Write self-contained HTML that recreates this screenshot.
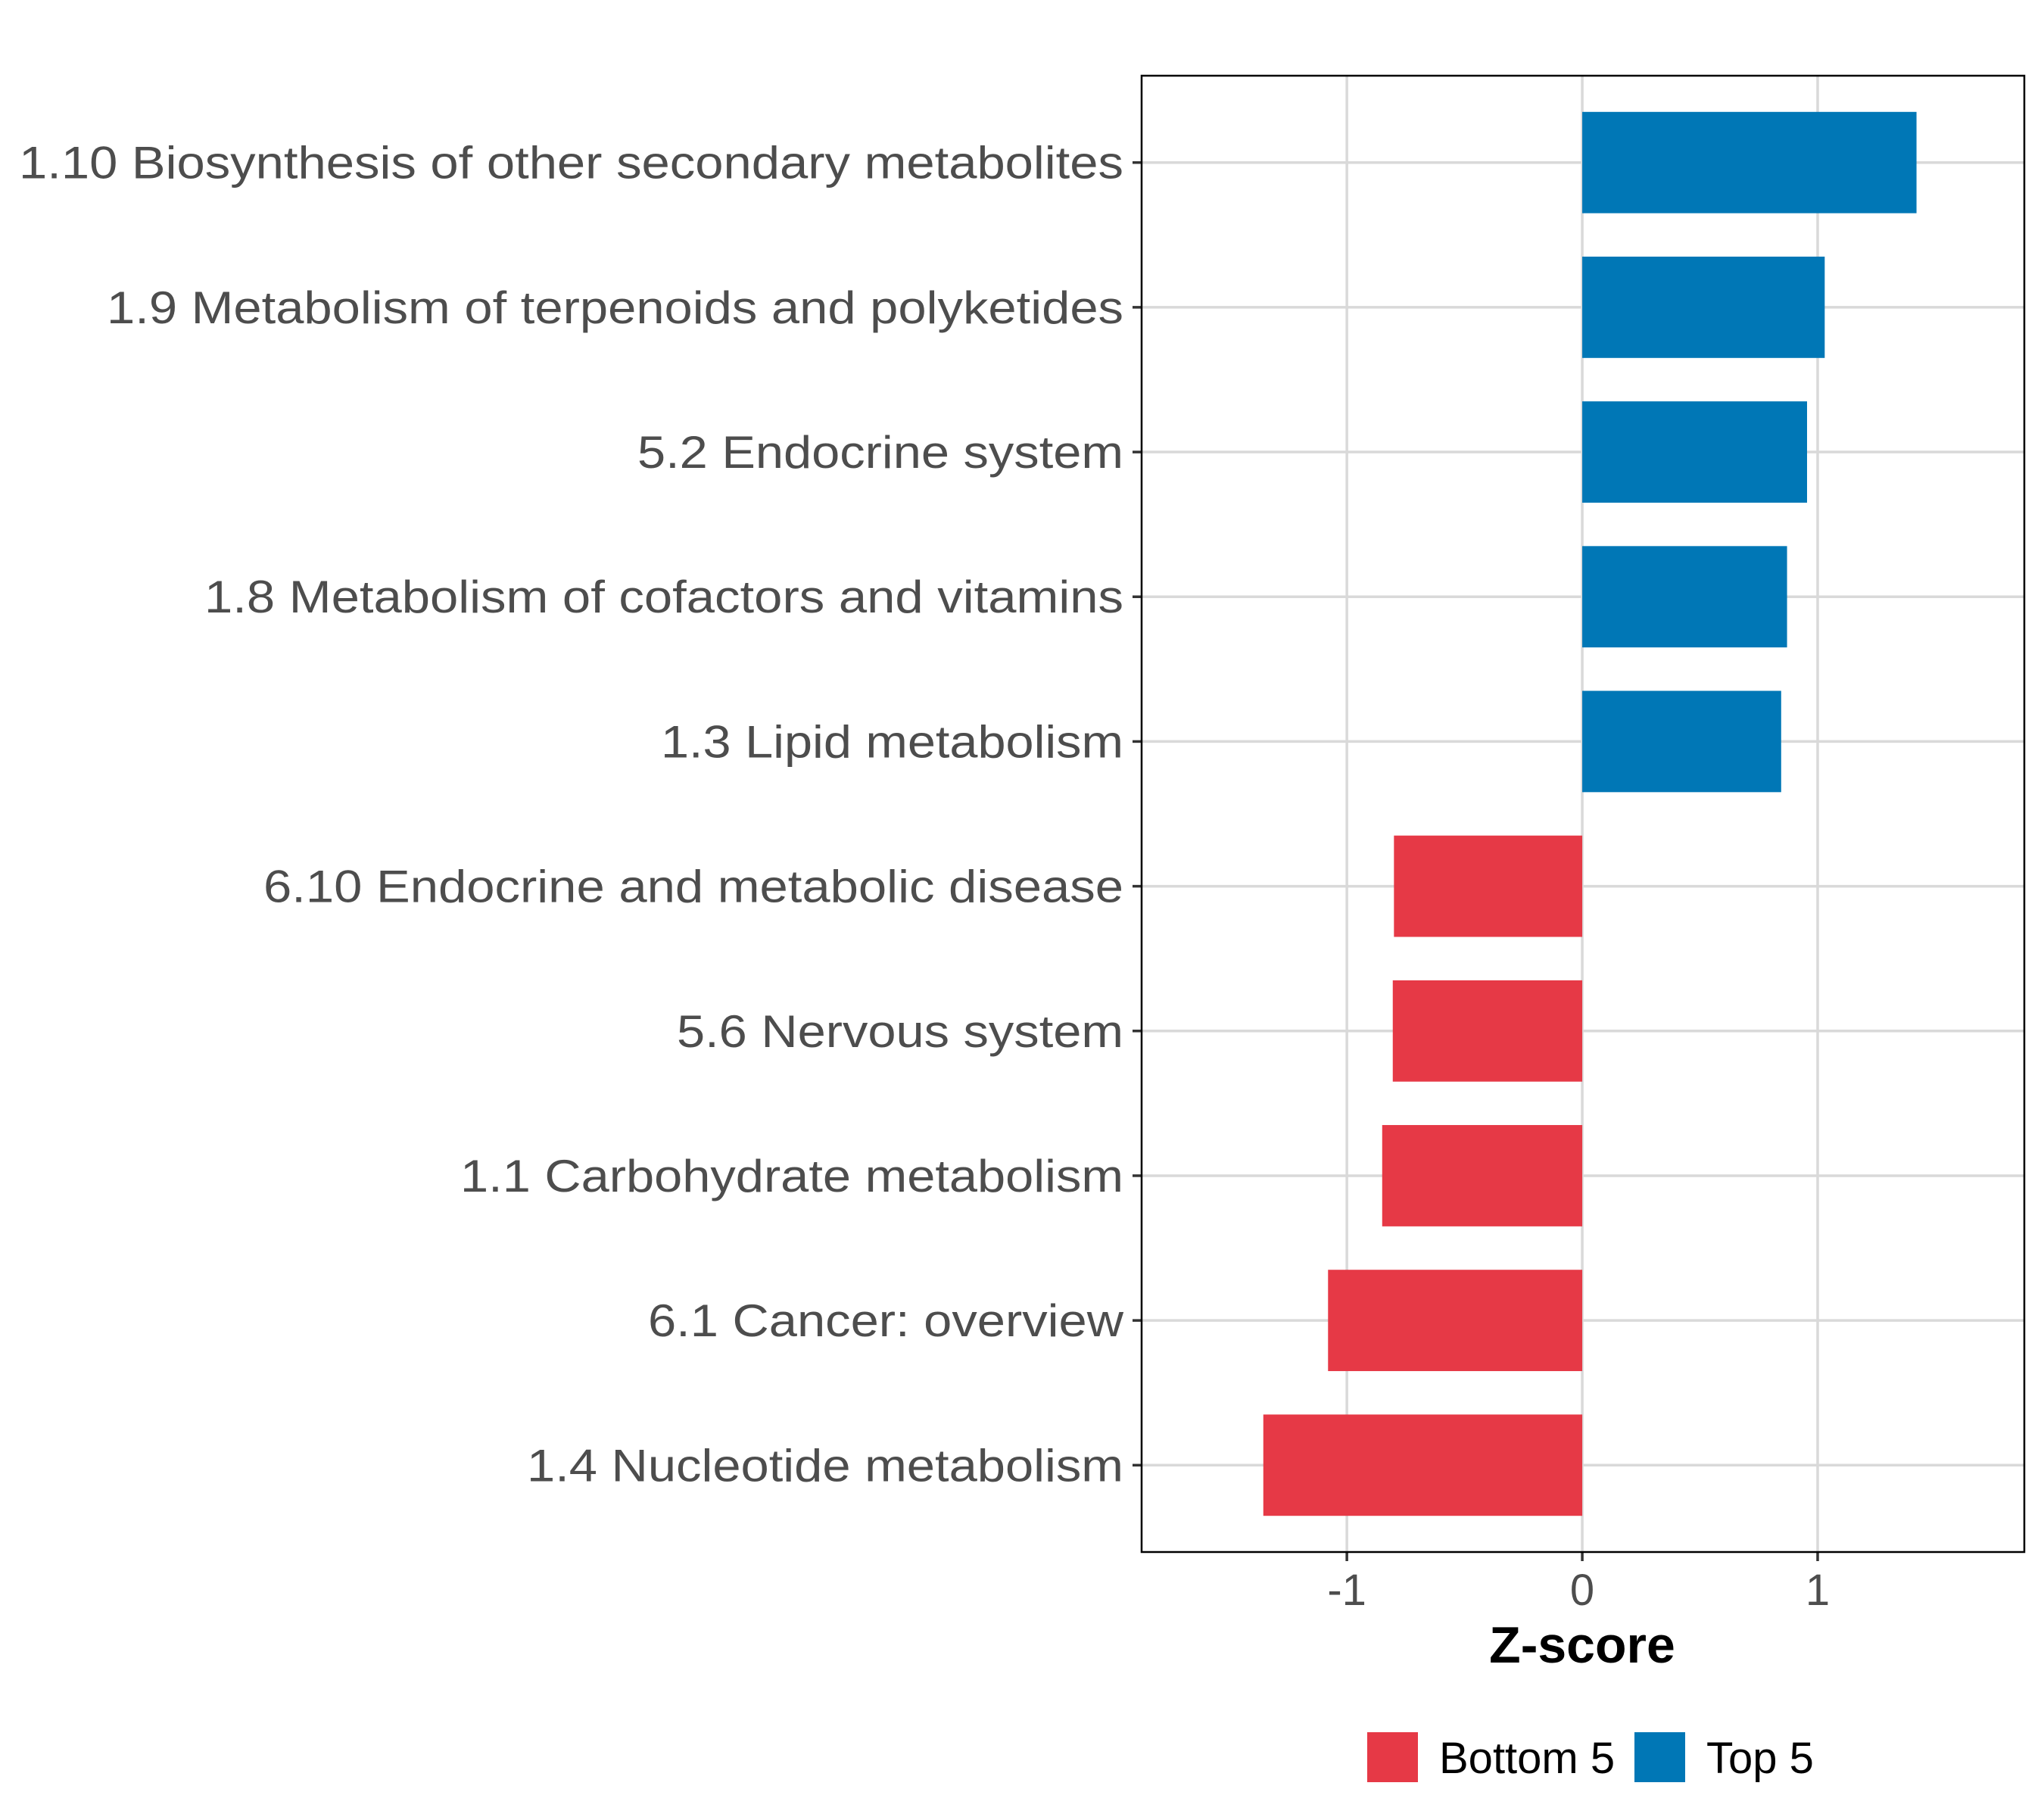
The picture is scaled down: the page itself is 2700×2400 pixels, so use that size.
<!DOCTYPE html>
<html><head><meta charset="utf-8"><style>
html,body{margin:0;padding:0;background:#fff;}
svg{display:block;font-family:"Liberation Sans",Arial,sans-serif;}
</style></head><body>
<svg id="chart" width="2700" height="2400" viewBox="0 0 2700 2400" xmlns="http://www.w3.org/2000/svg">
<rect width="2700" height="2400" fill="#fff"/>
<g id="grid"></g><g id="bars"></g><g id="axes"></g>
<text x="2090" y="2196" text-anchor="middle" font-size="68" font-weight="bold" fill="#000">Z-score</text>
<g>
<rect x="1806" y="2288" width="67" height="66" fill="#e63946"/>
<text x="1901" y="2342" font-size="58" fill="#000">Bottom 5</text>
<rect x="2159" y="2288" width="67" height="66" fill="#0077b6"/>
<text x="2254" y="2342" font-size="58" fill="#000">Top 5</text>
</g>
</svg>
<script>
const categories=["1.10 Biosynthesis of other secondary metabolites","1.9 Metabolism of terpenoids and polyketides","5.2 Endocrine system","1.8 Metabolism of cofactors and vitamins","1.3 Lipid metabolism","6.10 Endocrine and metabolic disease","5.6 Nervous system","1.1 Carbohydrate metabolism","6.1 Cancer: overview","1.4 Nucleotide metabolism"];
const values=[1.42,1.03,0.955,0.87,0.845,-0.80,-0.805,-0.85,-1.08,-1.355];
const groups=["Top 5","Top 5","Top 5","Top 5","Top 5","Bottom 5","Bottom 5","Bottom 5","Bottom 5","Bottom 5"];
const xTicks=[-1,0,1];
const xTickLabels=["-1","0","1"];
const labelWidths=[1459,1343,642,1214,611,1136,590,876,628,788];

const NS="http://www.w3.org/2000/svg";
const L=1508,R=2674,T=100,B=2050;
const xMin=-1.872,xMax=1.878;
const x=v=>L+(v-xMin)/(xMax-xMin)*(R-L);
const n=categories.length;
const step=(B-T)/(n-1+1.2);
const y=i=>T+step*(0.6+i);
const colors={"Top 5":"#0077b6","Bottom 5":"#e63946"};
function mk(tag,attrs,parent){const e=document.createElementNS(NS,tag);for(const k in attrs)e.setAttribute(k,attrs[k]);parent.appendChild(e);return e;}
const grid=document.getElementById('grid'),bars=document.getElementById('bars'),axes=document.getElementById('axes');
xTicks.forEach((t,i)=>{
  const g=mk('line',{x1:x(t),x2:x(t),y1:T,y2:B,stroke:'#d9d9d9','stroke-width':3.5},grid);
  
  
  const tk=mk('line',{x1:x(t),x2:x(t),y1:B,y2:B+12,stroke:'#333','stroke-width':3.5},axes);
  
  
  const tl=mk('text',{x:x(t),y:2120,'text-anchor':'middle','font-size':58,fill:'#4d4d4d'},axes);
  tl.textContent=xTickLabels[i];
  
  
});
categories.forEach((c,i)=>{
  const yc=y(i);
  const g=mk('line',{x1:L,x2:R,y1:yc,y2:yc,stroke:'#d9d9d9','stroke-width':3.5},grid);
  
  
  const v=values[i];const h=step*0.7;
  const b=mk('rect',{x:Math.min(x(0),x(v)),y:yc-h/2,width:Math.abs(x(v)-x(0)),height:h,fill:colors[groups[i]]},bars);
  
  
  const tk=mk('line',{x1:L-12,x2:L,y1:yc,y2:yc,stroke:'#333','stroke-width':3.5},axes);
  
  
  const tl=mk('text',{x:1484,y:yc+21,'text-anchor':'end','font-size':60,fill:'#4d4d4d',textLength:labelWidths[i],lengthAdjust:'spacingAndGlyphs'},axes);
  tl.textContent=c;
  
  
});
const border=mk('rect',{x:L,y:T,width:R-L,height:B-T,fill:'none',stroke:'#000','stroke-width':2.5},axes);


</script>
</body></html>
